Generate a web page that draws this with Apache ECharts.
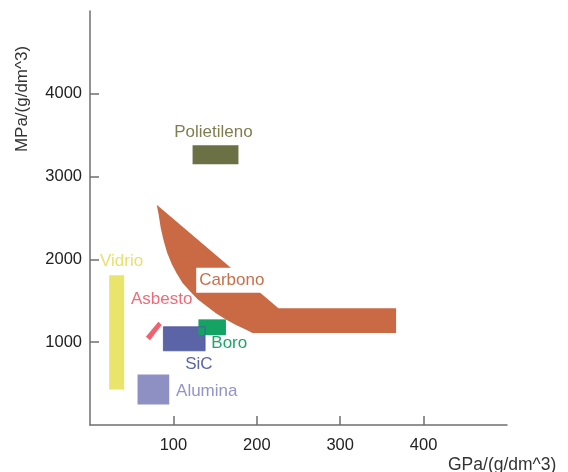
<!DOCTYPE html>
<html>
<head>
<meta charset="utf-8">
<script src="https://cdn.jsdelivr.net/npm/echarts@6/dist/echarts.min.js"></script>
<style>
  html, body { margin: 0; padding: 0; background: #fff; }
  #chart { width: 568px; height: 472px; }
</style>
</head>
<body>
<div id="chart"></div>
<script>
// Specific strength (MPa per g/dm^3) vs specific modulus (GPa per g/dm^3) of fibre materials
const xTicks = [100, 200, 300, 400];
const yTicks = [1000, 2000, 3000, 4000];

// Rectangular regions: modulus range [x0, x1], strength range [y0, y1]
const rectNames = ['Polietileno', 'Vidrio', 'SiC', 'Boro', 'Alumina'];
const rectX0 = [123, 23, 88, 130, 57];
const rectX1 = [178, 41, 138, 163, 95];
const rectY0 = [3150, 430, 896, 1086, 248];
const rectY1 = [3380, 1810, 1186, 1276, 611];
const rectColors = ['#6b7045', '#e9e46c', '#5a64a6', '#14a363', '#8e90c4'];

// Carbon fibre family outline (straight upper edge, curved lower-left edge)
const carbono = [
  [80, 2660], [226, 1410], [367, 1410], [367, 1112], [195, 1112],
  [186, 1156], [175, 1207], [163, 1273], [151, 1350], [140, 1434],
  [129, 1520], [119.6, 1618], [111, 1715], [104, 1830], [98, 1944],
  [92.6, 2077], [88.4, 2222], [84.8, 2380], [82.4, 2537]
];
// Asbestos (narrow tilted band)
const asbesto = [[67, 1065], [72, 1025], [86, 1207], [82, 1247]];

// Region labels
const labelText = ['Polietileno', 'Vidrio', 'Carbono', 'Asbesto', 'SiC', 'Boro', 'Alumina'];
const labelX = [148, 12, 170, 86, 130.5, 167, 140];
const labelY = [3537, 1980, 1749, 1521, 735, 985, 412];
const labelAlign = ['center', 'left', 'center', 'center', 'center', 'center', 'center'];
const labelColors = ['#807d50', '#e6e070', '#c9704a', '#f06b78', '#5a64a8', '#1fa566', '#9294c8'];

const FONT = '"Liberation Sans", Arial, sans-serif';

const chart = echarts.init(document.getElementById('chart'), null, { renderer: 'canvas' });

function polygonSeries(points, color, z) {
  return {
    type: 'custom',
    coordinateSystem: 'cartesian2d',
    z: z,
    silent: true,
    clip: false,
    data: [[points[0][0], points[0][1]]],
    renderItem: function (params, api) {
      return {
        type: 'polygon',
        shape: { points: points.map(p => api.coord(p)) },
        style: { fill: color }
      };
    }
  };
}

function rectShape(api, i) {
  const p0 = api.coord([rectX0[i], rectY1[i]]);
  const p1 = api.coord([rectX1[i], rectY0[i]]);
  return { x: p0[0], y: p0[1], width: p1[0] - p0[0], height: p1[1] - p0[1] };
}

const rectSeries = {
  type: 'custom',
  coordinateSystem: 'cartesian2d',
  z: 3,
  silent: true,
  clip: false,
  data: rectNames.map((n, i) => [rectX0[i], rectY0[i], rectX1[i], rectY1[i]]),
  renderItem: function (params, api) {
    return {
      type: 'rect',
      shape: rectShape(api, params.dataIndex),
      style: { fill: rectColors[params.dataIndex] }
    };
  }
};

// thin outline of the SiC box showing through where Boro overlaps it
const sicIndex = rectNames.indexOf('SiC');
const sicOutline = {
  type: 'custom',
  coordinateSystem: 'cartesian2d',
  z: 4,
  silent: true,
  clip: false,
  data: [[rectX0[sicIndex], rectY0[sicIndex]]],
  renderItem: function (params, api) {
    return {
      type: 'rect',
      shape: rectShape(api, sicIndex),
      style: { fill: null, stroke: '#4a58a0', lineWidth: 1, opacity: 0.8 }
    };
  }
};

const labelSeries = {
  type: 'custom',
  coordinateSystem: 'cartesian2d',
  z: 5,
  silent: true,
  clip: false,
  data: labelText.map((t, i) => [labelX[i], labelY[i]]),
  renderItem: function (params, api) {
    const i = params.dataIndex;
    const p = api.coord([api.value(0), api.value(1)]);
    const isCarbon = labelText[i] === 'Carbono';
    return {
      type: 'text',
      x: p[0],
      y: p[1],
      style: {
        text: labelText[i],
        fill: labelColors[i],
        font: '17px ' + FONT,
        align: labelAlign[i],
        verticalAlign: 'middle',
        backgroundColor: isCarbon ? '#ffffff' : null,
        padding: isCarbon ? [4, 3, 4, 3] : 0
      }
    };
  }
};

const axisColor = '#6f6f6f';
const plain = v => String(v);

chart.setOption({
  animation: false,
  backgroundColor: '#ffffff',
  grid: { left: 90, right: 61, top: 11, bottom: 47, containLabel: false },
  xAxis: {
    type: 'value',
    min: 0, max: 500,
    splitLine: { show: false },
    axisLine: { show: true, lineStyle: { color: axisColor, width: 1.5 } },
    axisTick: { show: true, inside: true, length: 9, customValues: xTicks, lineStyle: { color: axisColor, width: 1.5 } },
    axisLabel: { customValues: xTicks, formatter: plain, color: '#222', fontSize: 16.5, fontFamily: FONT, margin: 12 }
  },
  yAxis: {
    type: 'value',
    min: 0, max: 5000,
    splitLine: { show: false },
    axisLine: { show: true, lineStyle: { color: axisColor, width: 1.5 } },
    axisTick: { show: true, inside: true, length: 9, customValues: yTicks, lineStyle: { color: axisColor, width: 1.5 } },
    axisLabel: { customValues: yTicks, formatter: plain, color: '#222', fontSize: 16.5, fontFamily: FONT, margin: 8 }
  },
  graphic: [
    {
      type: 'text', x: 448, y: 465,
      style: { text: 'GPa/(g/dm^3)', fill: '#333', font: '17.5px ' + FONT, verticalAlign: 'middle' }
    },
    {
      type: 'text', x: 22, y: 99, rotation: Math.PI / 2,
      style: { text: 'MPa/(g/dm^3)', fill: '#333', font: '17px ' + FONT, align: 'center', verticalAlign: 'middle' }
    }
  ],
  series: [
    polygonSeries(carbono, '#c96a44', 2),
    polygonSeries(asbesto, '#ee6272', 2),
    rectSeries,
    sicOutline,
    labelSeries
  ]
});
</script>
</body>
</html>
